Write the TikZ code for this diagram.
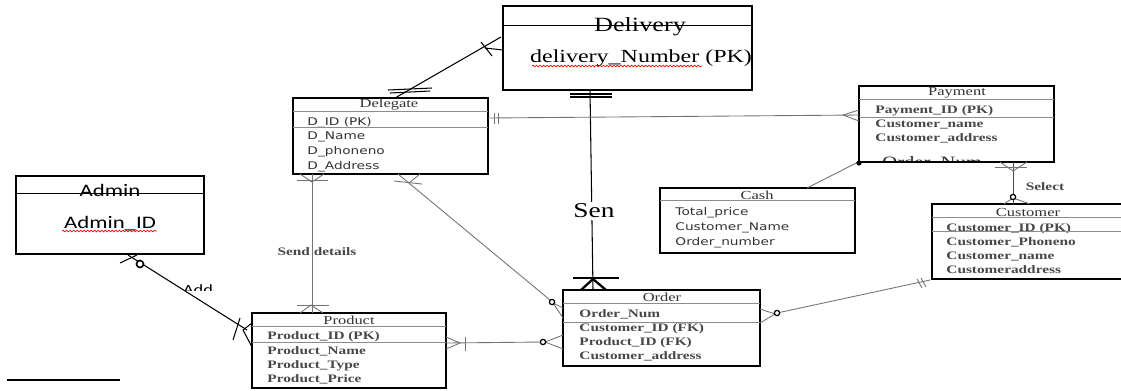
\documentclass[tikz,border=0pt]{standalone}
\usepackage{fontspec}
\setmainfont{Liberation Serif}
\newfontfamily\dejavu{DejaVu Sans}
\newfontfamily\carlito{Carlito}
\usetikzlibrary{positioning, fit, calc, decorations.pathmorphing}

\tikzset{
  entity/.style={draw, line width=0.9pt, inner sep=0pt},
  divider/.style={draw=black!45, line width=0.4pt},
  heading/.style={inner sep=0pt, text=black!80, font=\fontsize{7}{8}\selectfont, xscale=1.34},
  attr/.style={inner sep=0pt, anchor=west, text=black!72, text height=1.6ex, text depth=0.3ex,
    font=\bfseries\fontsize{6.5}{8}\selectfont, xscale=1.34},
  sattr/.style={inner sep=0pt, anchor=west, text=black!80, text height=1.6ex, text depth=0.3ex,
    font=\dejavu\fontsize{6}{8}\selectfont, xscale=1.3},
  rel/.style={draw=black!55, line width=0.5pt},
  strongrel/.style={draw=black, line width=0.6pt},
  ring/.style={draw, circle, inner sep=0pt, minimum size=3pt, line width=0.7pt, fill=white},
  squiggle/.style={draw=red, line width=0.4pt, decorate,
    decoration={snake, amplitude=0.45pt, segment length=2pt}}
}

\begin{document}
\begin{tikzpicture}[x=0.02cm, y=-0.02cm]
    \useasboundingbox (0,0) rectangle (1121,390);

    % Delivery
    \node[entity, line width=1.2pt, fit={(503,6) (752,90)}] (delivery) {};
    \node[inner sep=0pt, anchor=base, font=\fontsize{11.5}{12}\selectfont, xscale=1.3] (delivery-title) at (640,31) {Delivery};
    \draw[line width=0.5pt] (503,25) -- (752,25);
    \node[inner sep=0pt, anchor=base, font=\fontsize{10.5}{12}\selectfont, xscale=1.3] (delivery-pk) at (641,62) {delivery\_Number (PK)};
    \draw[squiggle] (532,66) -- (702,66);

    % Admin
    \node[entity, fit={(16,176) (204,254)}] (admin) {};
    \node[inner sep=0pt, anchor=base, font=\carlito\fontsize{10}{12}\selectfont, xscale=1.3] (admin-title) at (110,196) {Admin};
    \draw[line width=0.5pt] (16,193) -- (204,193);
    \node[inner sep=0pt, anchor=base, font=\carlito\fontsize{10}{12}\selectfont, xscale=1.3] (admin-id) at (110,228) {Admin\_ID};
    \draw[squiggle] (62,231) -- (157,231);

    % Delegate
    \node[entity, fit={(293,98) (488,174)}] (delegate) {};
    \node[heading] (delegate-title) at (389,105) {Delegate};
    \draw[divider] (293,111) -- (488,111);
    \node[sattr] (delegate-id) at (307,120) {D\_ID (PK)};
    \draw[divider] (293,127) -- (488,127);
    \node[sattr] (delegate-name) at (307,134) {D\_Name};
    \node[sattr] (delegate-phone) at (307,149) {D\_phoneno};
    \node[sattr] (delegate-address) at (307,164) {D\_Address};

    % Payment
    \begin{scope}
      \clip (859,86) rectangle (1054,161);
      \node[inner sep=0pt, anchor=base west, text=black!85, font=\fontsize{9}{10}\selectfont, xscale=1.3] (payment-order) at (882,167) {Order\_Num};
    \end{scope}
    \node[entity, fit={(859,86) (1054,162)}] (payment) {};
    \node[heading] (payment-title) at (957,93) {Payment};
    \draw[divider] (859,99) -- (1054,99);
    \node[attr] (payment-id) at (875,108) {Payment\_ID (PK)};
    \draw[divider] (859,117) -- (1054,117);
    \node[attr] (payment-name) at (875,122) {Customer\_name};
    \node[attr] (payment-address) at (875,136) {Customer\_address};

    % Cash
    \node[entity, fit={(660,188) (855,253)}] (cash) {};
    \node[heading] (cash-title) at (757,195) {Cash};
    \draw[divider] (660,200) -- (855,200);
    \node[sattr] (cash-total) at (675,210) {Total\_price};
    \node[sattr] (cash-name) at (675,225) {Customer\_Name};
    \node[sattr] (cash-order) at (675,240) {Order\_number};

    % Customer
    \node[entity, fit={(932,204) (1125,279)}] (customer) {};
    \node[heading] (customer-title) at (1028,212) {Customer};
    \draw[divider] (932,217) -- (1125,217);
    \node[attr] (customer-id) at (946,226) {Customer\_ID (PK)};
    \draw[divider] (932,231) -- (1125,231);
    \node[attr] (customer-phone) at (946,240) {Customer\_Phoneno};
    \node[attr] (customer-name) at (946,254) {Customer\_name};
    \node[attr] (customer-address) at (946,268) {Customeraddress};

    % Product
    \node[entity, fit={(252,313) (446,388)}] (product) {};
    \node[heading] (product-title) at (349,320) {Product};
    \draw[divider] (252,326) -- (446,326);
    \node[attr] (product-id) at (267,334) {Product\_ID (PK)};
    \draw[divider] (252,342) -- (446,342);
    \node[attr] (product-name) at (267,349) {Product\_Name};
    \node[attr] (product-type) at (267,363) {Product\_Type};
    \node[attr] (product-price) at (267,377) {Product\_Price};

    % Order
    \node[entity, fit={(563,290) (760,366)}] (order) {};
    \node[heading] (order-title) at (662,297) {Order};
    \draw[divider] (563,303) -- (760,303);
    \node[attr] (order-num) at (579,312) {Order\_Num};
    \draw[divider] (563,322) -- (760,322);
    \node[attr] (order-customer) at (579,326) {Customer\_ID (FK)};
    \node[attr] (order-product) at (579,340) {Product\_ID (FK)};
    \node[attr] (order-address) at (579,354) {Customer\_address};

    % Connector ends
    \coordinate (dlg-n) at (395,98);
    \coordinate (dlv-w) at (501,37);
    \coordinate (dlv-s) at (590,90);
    \coordinate (ord-n) at (593,290);
    \coordinate (dlg-e) at (488,118);
    \coordinate (pay-w) at (859,115);
    \coordinate (cash-n) at (807,188);
    \coordinate (pay-s) at (1013,162);
    \coordinate (cus-n) at (1013,204);
    \coordinate (dlg-s) at (312,174);
    \coordinate (prd-n) at (312,313);
    \coordinate (dlg-se) at (398,174);
    \coordinate (prd-e) at (446,343);
    \coordinate (ord-w) at (543,342);
    \coordinate (cus-sw) at (930,280);
    \coordinate (adm-s) at (128,255);
    \coordinate (prd-w) at (247,330);

    % Delegate -- Delivery
    \draw[strongrel] (dlg-n) -- (dlv-w);
    \draw[strongrel] (485,48) -- (503,50);
    \draw[strongrel] (481,42) -- (492,56);
    \draw[strongrel] (388,90) -- (432,88);
    \draw[strongrel] (390,93) -- (430,91);

    % Delivery -- Order
    \draw[strongrel] (dlv-s) -- (ord-n);
    \draw[strongrel] (570,94) -- (612,94);
    \draw[strongrel] (570,97) -- (612,97);
    \draw[strongrel] (573,278) -- (619,278);
    \draw[line width=1.3pt, line join=miter] (581,290) -- (593,279) -- (606,290);
    \node[fill=white, inner sep=1pt, font=\fontsize{12}{14}\selectfont, xscale=1.3] (sen) at (594,211) {Sen};

    % Delegate -- Payment
    \draw[rel] (dlg-e) -- (pay-w);
    \draw[rel] (494,113) -- (494,124);
    \draw[rel] (498,113) -- (498,124);
    \draw[rel] (843,115) -- (859,110);
    \draw[rel] (843,115) -- (859,121);

    % Cash -- Payment
    \draw[rel] (cash-n) -- (pay-s -| payment.west);
    \node[circle, fill, inner sep=0pt, minimum size=3pt] (pay-dot) at (859,163) {};

    % Payment -- Customer
    \draw[rel, draw=black!70] (pay-s) -- (cus-n);
    \draw[rel] (995,167) -- (1027,167);
    \draw[rel] (1000,162) -- (1013,171) -- (1027,162);
    \draw[rel] (1004,204) -- (1013,198) -- (1030,204);
    \node[ring] (cus-ring) at (1013,197) {};
    \node[attr, anchor=center] (select) at (1045,185) {Select};

    % Delegate -- Product
    \draw[rel] (dlg-s) -- (prd-n);
    \draw[rel] (297,180) -- (328,180);
    \draw[rel] (300,174) -- (312,182) -- (324,174);
    \draw[rel] (297,305) -- (329,305);
    \draw[rel] (300,313) -- (311,305) -- (323,313);
    \node[attr, anchor=center] (send) at (317,250) {Send details};

    % Delegate -- Order
    \draw[rel] (dlg-se) -- (550,300);
    \draw[rel] (394,181) -- (422,184);
    \draw[rel] (409,183) -- (420,174);
    \draw[rel] (563,308) -- (553,303) -- (563,318);
    \node[ring] (ord-ring-a) at (552,302) {};

    % Product -- Order
    \draw[rel] (prd-e) -- (ord-w);
    \draw[rel] (446,337) -- (460,343) -- (446,349);
    \draw[rel] (465,337) -- (465,351);
    \draw[rel] (563,335) -- (545,342) -- (563,349);
    \node[ring] (ord-ring-b) at (543,342) {};

    % Order -- Customer
    \draw[rel] (777,313) -- (cus-sw);
    \draw[rel] (760,309) -- (775,314) -- (760,323);
    \node[ring] (ord-ring-c) at (777,313) {};
    \draw[rel] (917,279) -- (922,288);
    \draw[rel] (921,278) -- (926,287);

    % Admin -- Product
    \draw[strongrel] (adm-s) -- (prd-w);
    \draw[strongrel] (120,263) -- (137,255);
    \node[ring, minimum size=4pt, line width=0.9pt] (adm-ring) at (140,264) {};
    \draw[strongrel] (233,340) -- (240,318);
    \draw[strongrel] (252,323) -- (243,330) -- (252,347);
    \begin{scope}
      \clip (170,270) rectangle (230,290);
      \node[inner sep=0pt, anchor=base, font=\carlito\fontsize{8}{10}\selectfont, xscale=1.3] (add) at (198,294) {Add};
    \end{scope}

    % stray rule
    \draw[line width=0.9pt] (7,380) -- (120,380);
\end{tikzpicture}
\end{document}
